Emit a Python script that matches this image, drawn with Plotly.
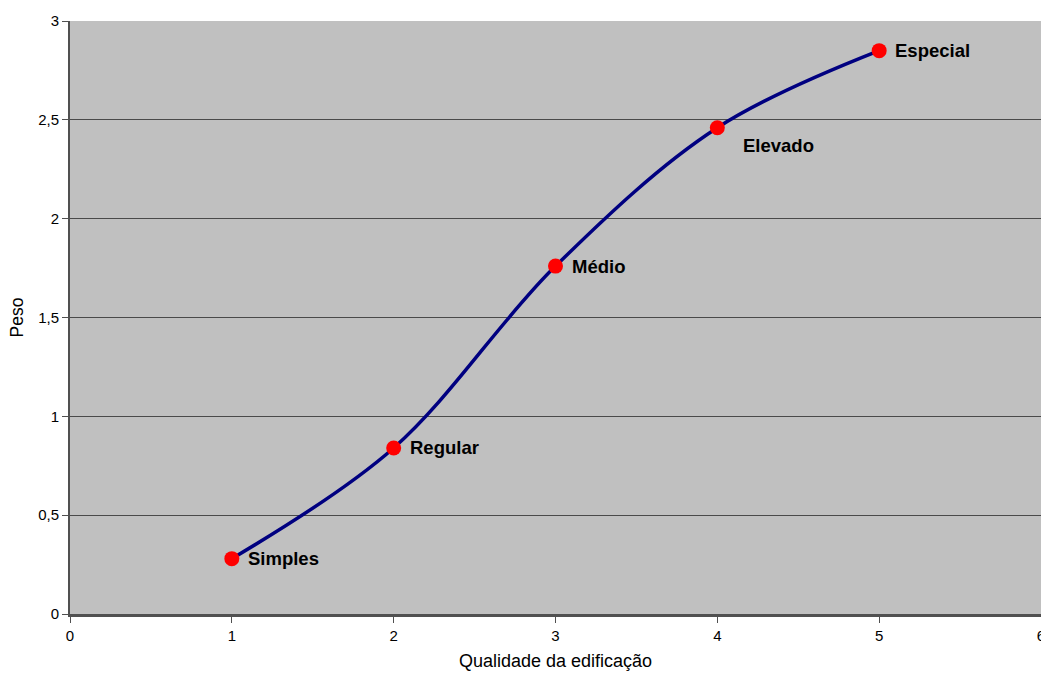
import plotly.graph_objects as go

# Quality grade of the building vs. weight
qualidade = [1, 2, 3, 4, 5]
peso = [0.28, 0.84, 1.76, 2.46, 2.85]
rotulos = ["Simples", "Regular", "Médio", "Elevado", "Especial"]
# label offsets (pixels) relative to each point
desloc_x = [14, 14, 14, 24, 14]
desloc_y = [0, 0, 0, -18, 0]

fig = go.Figure()
fig.add_trace(go.Scatter(
    x=qualidade, y=peso,
    mode="lines+markers",
    line=dict(color="#000080", width=3.5, shape="spline", smoothing=1.0),
    marker=dict(color="#FF0000", size=15, line=dict(width=0)),
    showlegend=False, hoverinfo="skip",
))

for xv, yv, txt, dx, dy in zip(qualidade, peso, rotulos, desloc_x, desloc_y):
    fig.add_annotation(
        x=xv, y=yv, text=f"<b>{txt}</b>", showarrow=False,
        xanchor="left", yanchor="middle", xshift=dx, yshift=dy,
        font=dict(family="Liberation Sans, Arial", size=18.5, color="#000000"),
    )

fig.update_layout(
    width=1041, height=673,
    margin=dict(l=70, r=0, t=21, b=59, autoexpand=False),
    paper_bgcolor="#FFFFFF", plot_bgcolor="#C0C0C0",
    separators=",.",
    font=dict(family="Liberation Sans, Arial", size=15, color="#000000"),
    xaxis=dict(
        range=[0, 6], tickmode="linear", tick0=0, dtick=1,
        ticklabeloverflow="allow", automargin=False,
        showgrid=False, zeroline=False,
        showline=True, linecolor="#505050", linewidth=3,
        ticks="outside", ticklen=6, tickcolor="#505050", tickwidth=1,
        title=dict(text="Qualidade da edificação", font=dict(size=18), standoff=12),
    ),
    yaxis=dict(
        range=[0, 3], tickmode="linear", tick0=0, dtick=0.5,
        automargin=False,
        showgrid=True, gridcolor="#4A4A4A", gridwidth=1, zeroline=False,
        showline=True, linecolor="#505050", linewidth=2,
        ticks="outside", ticklen=6, tickcolor="#505050", tickwidth=1,
        title=dict(text="Peso", font=dict(size=17.5), standoff=10),
    ),
)

fig.write_html("out.html")
